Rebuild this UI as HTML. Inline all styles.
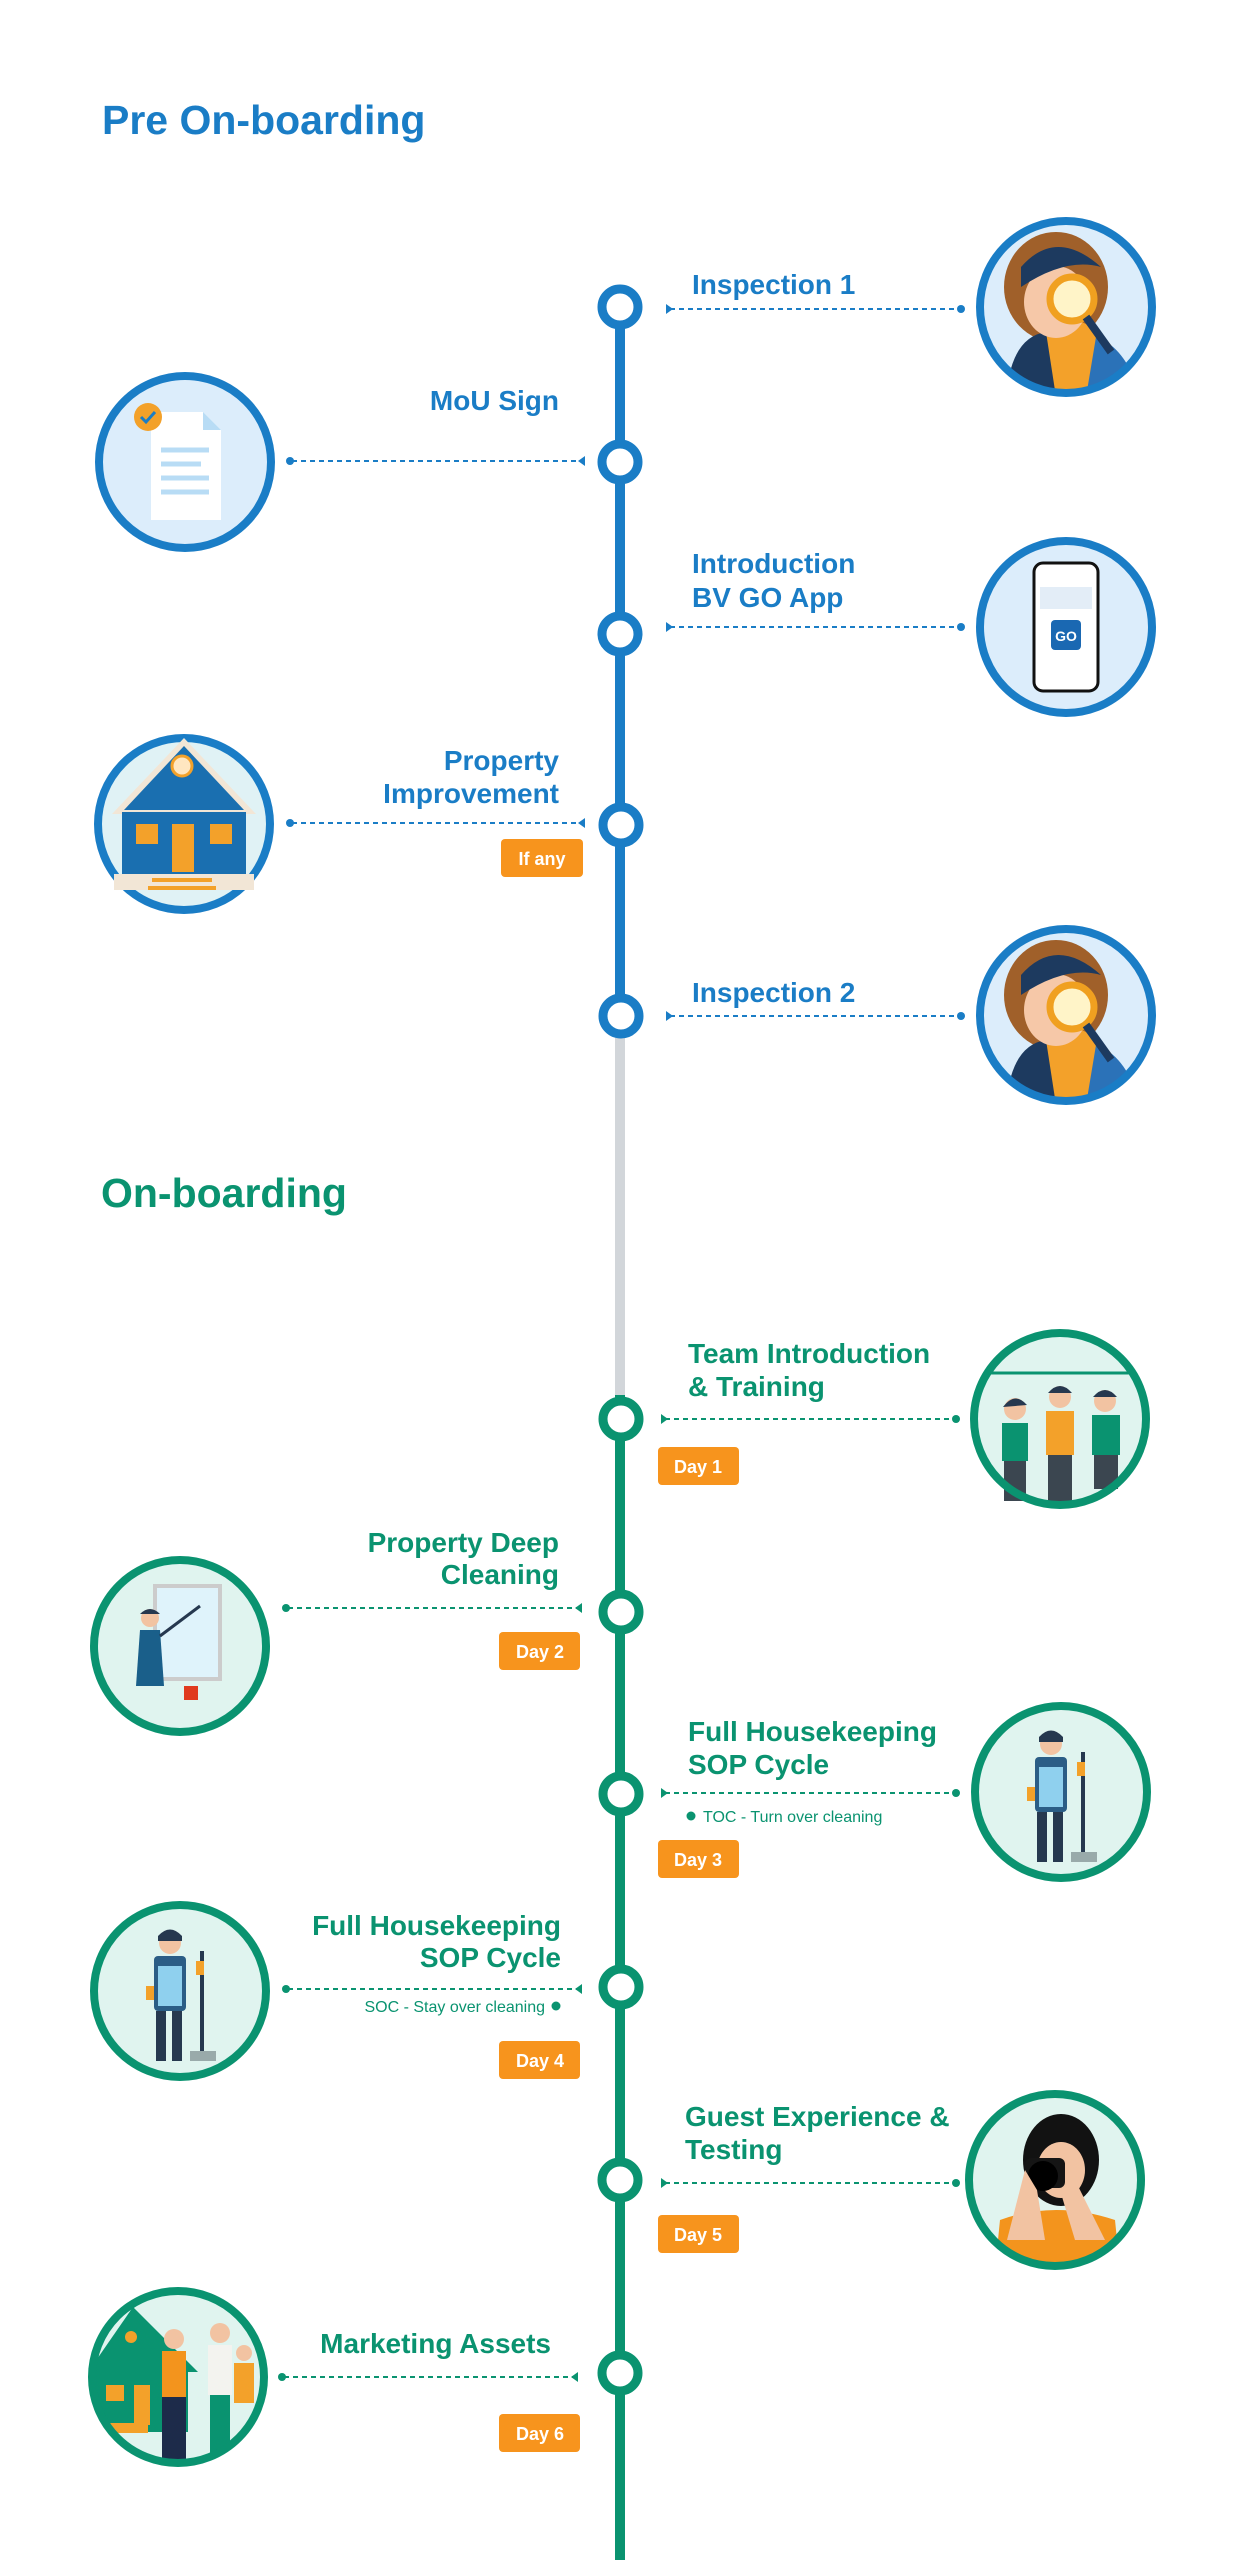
<!DOCTYPE html>
<html><head><meta charset="utf-8"><style>
html,body{margin:0;padding:0;background:#fff}
svg{display:block}
text{font-family:"Liberation Sans",sans-serif;font-weight:bold}
</style></head><body>
<svg width="1246" height="2560" viewBox="0 0 1246 2560" xmlns="http://www.w3.org/2000/svg">
<defs>
<clipPath id="cR"><circle cx="0" cy="0" r="84"/></clipPath>
<g id="insp">
 <circle r="86" fill="#dcedfb"/>
 <g clip-path="url(#cR)">
  <ellipse cx="-10" cy="-20" rx="52" ry="55" fill="#a0602a"/>
  <path d="M-50 90 Q-40 20 0 10 Q50 20 70 90Z" fill="#f3a12a"/>
  <path d="M-60 90 Q-55 30 -20 25 L-10 90Z" fill="#1d3a5f"/>
  <path d="M30 30 Q60 40 75 90 L20 90Z" fill="#2b72b8"/>
  <ellipse cx="-10" cy="-5" rx="32" ry="36" fill="#f6c8a8"/>
  <path d="M-45 -40 Q-10 -80 35 -40 Q0 -50 -45 -20Z" fill="#1d3a5f"/>
  <circle cx="6" cy="-8" r="22" fill="#fff4c8" stroke="#f0a020" stroke-width="7"/>
  <line x1="20" y1="10" x2="45" y2="45" stroke="#1d3a5f" stroke-width="8"/>
 </g>
 <circle r="86" fill="none" stroke="#1a7dc6" stroke-width="8"/>
</g>
<g id="hk">
 <circle r="86" fill="#e0f4ef"/>
 <circle cx="-10" cy="-48" r="11" fill="#f2c3a2"/>
 <path d="M-22 -55 Q-10 -68 2 -55 L2 -50 L-22 -50Z" fill="#26384f"/>
 <rect x="-26" y="-35" width="32" height="55" rx="4" fill="#2b5d86"/>
 <rect x="-22" y="-25" width="24" height="40" fill="#8fd0ee"/>
 <rect x="-24" y="20" width="10" height="50" fill="#26384f"/>
 <rect x="-8" y="20" width="10" height="50" fill="#26384f"/>
 <line x1="22" y1="-40" x2="22" y2="62" stroke="#26384f" stroke-width="4"/>
 <rect x="10" y="60" width="26" height="10" fill="#9aa"/>
 <rect x="-34" y="-5" width="8" height="14" fill="#f3a12a"/>
 <rect x="16" y="-30" width="8" height="14" fill="#f3a12a"/>
 <circle r="86" fill="none" stroke="#0a9370" stroke-width="8"/>
</g>
</defs>

<!-- titles -->
<text x="102" y="134" font-size="41" fill="#1a7dc6">Pre On-boarding</text>
<text x="101" y="1207" font-size="41" fill="#0a9370">On-boarding</text>

<!-- timeline -->
<line x1="620" y1="307" x2="620" y2="1015" stroke="#1a7dc6" stroke-width="10"/>
<line x1="620" y1="1015" x2="620" y2="1395" stroke="#d2d6da" stroke-width="10"/>
<line x1="620" y1="1395" x2="620" y2="2560" stroke="#0a9370" stroke-width="10"/>

<g fill="#fff" stroke-width="9">
 <g stroke="#1a7dc6">
  <circle cx="620" cy="307" r="18"/><circle cx="620" cy="462" r="18"/><circle cx="620" cy="634" r="18"/><circle cx="621" cy="825" r="18"/><circle cx="621" cy="1016" r="18"/>
 </g>
 <g stroke="#0a9370">
  <circle cx="621" cy="1419" r="18"/><circle cx="621" cy="1612" r="18"/><circle cx="621" cy="1794" r="18"/><circle cx="621" cy="1987" r="18"/><circle cx="620" cy="2180" r="18"/><circle cx="620" cy="2373" r="18"/>
 </g>
</g>

<!-- connectors blue -->
<g stroke="#1a7dc6" stroke-width="2" stroke-dasharray="5 4" fill="none">
 <line x1="670" y1="309" x2="960" y2="309"/>
 <line x1="292" y1="461" x2="580" y2="461"/>
 <line x1="670" y1="627" x2="960" y2="627"/>
 <line x1="292" y1="823" x2="580" y2="823"/>
 <line x1="670" y1="1016" x2="960" y2="1016"/>
</g>
<g fill="#1a7dc6">
 <path d="M666 304 l7 5 -7 5z"/><circle cx="961" cy="309" r="4"/>
 <path d="M585 456 l-7 5 7 5z"/><circle cx="290" cy="461" r="4"/>
 <path d="M666 622 l7 5 -7 5z"/><circle cx="961" cy="627" r="4"/>
 <path d="M585 818 l-7 5 7 5z"/><circle cx="290" cy="823" r="4"/>
 <path d="M666 1011 l7 5 -7 5z"/><circle cx="961" cy="1016" r="4"/>
</g>
<!-- connectors green -->
<g stroke="#0a9370" stroke-width="2" stroke-dasharray="5 4" fill="none">
 <line x1="665" y1="1419" x2="955" y2="1419"/>
 <line x1="288" y1="1608" x2="578" y2="1608"/>
 <line x1="665" y1="1793" x2="955" y2="1793"/>
 <line x1="288" y1="1989" x2="578" y2="1989"/>
 <line x1="665" y1="2183" x2="955" y2="2183"/>
 <line x1="284" y1="2377" x2="574" y2="2377"/>
</g>
<g fill="#0a9370">
 <path d="M661 1414 l7 5 -7 5z"/><circle cx="956" cy="1419" r="4"/>
 <path d="M582 1603 l-7 5 7 5z"/><circle cx="286" cy="1608" r="4"/>
 <path d="M661 1788 l7 5 -7 5z"/><circle cx="956" cy="1793" r="4"/>
 <path d="M582 1984 l-7 5 7 5z"/><circle cx="286" cy="1989" r="4"/>
 <path d="M661 2178 l7 5 -7 5z"/><circle cx="956" cy="2183" r="4"/>
 <path d="M578 2372 l-7 5 7 5z"/><circle cx="282" cy="2377" r="4"/>
 <circle cx="691" cy="1816" r="4.5"/><circle cx="556" cy="2006" r="4.5"/>
</g>

<!-- blue labels -->
<g font-size="28" fill="#1a7dc6">
 <text x="692" y="294">Inspection 1</text>
 <text x="559" y="410" text-anchor="end">MoU Sign</text>
 <text x="692" y="573">Introduction</text>
 <text x="692" y="607">BV GO App</text>
 <text x="559" y="770" text-anchor="end">Property</text>
 <text x="559" y="803" text-anchor="end">Improvement</text>
 <text x="692" y="1002">Inspection 2</text>
</g>
<!-- green labels -->
<g font-size="28" fill="#0a9370">
 <text x="688" y="1363">Team Introduction</text>
 <text x="688" y="1396">&amp; Training</text>
 <text x="559" y="1552" text-anchor="end">Property Deep</text>
 <text x="559" y="1584" text-anchor="end">Cleaning</text>
 <text x="688" y="1741">Full Housekeeping</text>
 <text x="688" y="1774">SOP Cycle</text>
 <text x="561" y="1935" text-anchor="end">Full Housekeeping</text>
 <text x="561" y="1967" text-anchor="end">SOP Cycle</text>
 <text x="685" y="2126">Guest Experience &amp;</text>
 <text x="685" y="2159">Testing</text>
 <text x="551" y="2353" text-anchor="end">Marketing Assets</text>
</g>
<g font-size="16" fill="#0a9370" font-weight="normal">
 <text x="703" y="1822" style="font-weight:normal">TOC - Turn over cleaning</text>
 <text x="545" y="2012" text-anchor="end" style="font-weight:normal">SOC - Stay over cleaning</text>
</g>

<!-- badges -->
<g fill="#f7941d">
 <rect x="501" y="839" width="82" height="38" rx="4"/>
 <rect x="658" y="1447" width="81" height="38" rx="4"/>
 <rect x="499" y="1632" width="81" height="38" rx="4"/>
 <rect x="658" y="1840" width="81" height="38" rx="4"/>
 <rect x="499" y="2041" width="81" height="38" rx="4"/>
 <rect x="658" y="2215" width="81" height="38" rx="4"/>
 <rect x="499" y="2414" width="81" height="38" rx="4"/>
</g>
<g font-size="18" fill="#fff" text-anchor="middle">
 <text x="542" y="865">If any</text>
 <text x="698" y="1473">Day 1</text>
 <text x="540" y="1658">Day 2</text>
 <text x="698" y="1866">Day 3</text>
 <text x="540" y="2067">Day 4</text>
 <text x="698" y="2241">Day 5</text>
 <text x="540" y="2440">Day 6</text>
</g>

<!-- blue illustrations -->
<use href="#insp" x="1066" y="307"/>
<use href="#insp" x="1066" y="1015"/>
<g transform="translate(185 462)">
 <circle r="86" fill="#dcedfb" stroke="#1a7dc6" stroke-width="8"/>
 <path d="M-34 -50 L18 -50 L36 -32 L36 58 L-34 58Z" fill="#fff"/>
 <path d="M18 -50 L36 -32 L18 -32Z" fill="#b8dcf5"/>
 <g stroke="#b8dcf5" stroke-width="5"><line x1="-24" y1="-12" x2="24" y2="-12"/><line x1="-24" y1="2" x2="16" y2="2"/><line x1="-24" y1="16" x2="24" y2="16"/><line x1="-24" y1="30" x2="24" y2="30"/></g>
 <circle cx="-37" cy="-45" r="14" fill="#f3a12a"/>
 <path d="M-44 -45 l5 5 9 -10" stroke="#1a7dc6" stroke-width="3" fill="none"/>
</g>
<g transform="translate(1066 627)">
 <circle r="86" fill="#dcedfb" stroke="#1a7dc6" stroke-width="8"/>
 <rect x="-32" y="-64" width="64" height="128" rx="9" fill="#fff" stroke="#111" stroke-width="3"/>
 <rect x="-26" y="-40" width="52" height="22" fill="#e3edf7"/>
 <rect x="-15" y="-7" width="30" height="30" rx="4" fill="#1a68b2"/>
 <text x="0" y="14" font-size="14" fill="#fff" text-anchor="middle">GO</text>
</g>
<g transform="translate(184 824)">
 <circle r="86" fill="#e0f2f5" stroke="#1a7dc6" stroke-width="8"/>
 <path d="M-72 -10 L0 -86 L72 -10Z" fill="#f2e6d6"/>
 <path d="M-60 -14 L0 -78 L60 -14Z" fill="#1a6fb0"/>
 <circle cx="-2" cy="-58" r="10" fill="#ffe6c0" stroke="#f3a12a" stroke-width="3"/>
 <rect x="-62" y="-12" width="124" height="62" fill="#1a6fb0"/>
 <rect x="-48" y="0" width="22" height="20" fill="#f3a12a"/>
 <rect x="26" y="0" width="22" height="20" fill="#f3a12a"/>
 <rect x="-12" y="0" width="22" height="48" fill="#f3a12a"/>
 <rect x="-70" y="50" width="140" height="16" fill="#f2e6d6"/>
 <rect x="-32" y="54" width="60" height="4" fill="#f3a12a"/><rect x="-36" y="62" width="68" height="4" fill="#f3a12a"/>
</g>

<!-- green illustrations -->
<g transform="translate(1060 1419)">
 <circle r="86" fill="#e0f4ef"/>
 <line x1="-72" y1="-46" x2="72" y2="-46" stroke="#0a9370" stroke-width="3"/>
 <g>
  <circle cx="-45" cy="-10" r="11" fill="#f2c3a2"/><path d="M-57 -12 Q-45 -28 -33 -14Z" fill="#26384f"/>
  <rect x="-58" y="4" width="26" height="38" fill="#0a9370"/><rect x="-56" y="42" width="22" height="40" fill="#3b4650"/>
  <circle cx="0" cy="-22" r="11" fill="#f2c3a2"/><path d="M-12 -26 Q0 -40 12 -26Z" fill="#26384f"/>
  <rect x="-14" y="-8" width="28" height="44" fill="#f3a12a"/><rect x="-12" y="36" width="24" height="50" fill="#3b4650"/>
  <circle cx="45" cy="-18" r="11" fill="#f2c3a2"/><path d="M33 -22 Q45 -36 57 -22Z" fill="#26384f"/>
  <rect x="32" y="-4" width="28" height="40" fill="#0a9370"/><rect x="34" y="36" width="24" height="34" fill="#3b4650"/>
 </g>
 <circle r="86" fill="none" stroke="#0a9370" stroke-width="8"/>
</g>
<g transform="translate(180 1646)">
 <circle r="86" fill="#e0f4ef" stroke="#0a9370" stroke-width="8"/>
 <rect x="-25" y="-60" width="65" height="93" fill="#dff3fb" stroke="#ccc" stroke-width="4"/>
 <circle cx="-30" cy="-28" r="9" fill="#f2c3a2"/><path d="M-40 -32 Q-30 -42 -20 -32Z" fill="#26384f"/>
 <path d="M-40 -16 L-20 -16 L-16 40 L-44 40Z" fill="#1a5f8a"/>
 <line x1="-20" y1="-10" x2="20" y2="-40" stroke="#26384f" stroke-width="3"/>
 <rect x="4" y="40" width="14" height="14" fill="#e03a1e"/>
</g>
<use href="#hk" x="1061" y="1792"/>
<use href="#hk" x="180" y="1991"/>
<g transform="translate(1055 2180)">
 <circle r="86" fill="#e0f4ef"/>
 <g clip-path="url(#cR)">
  <ellipse cx="6" cy="-20" rx="38" ry="46" fill="#121212"/>
  <path d="M-60 90 L-55 40 Q0 20 60 40 L65 90Z" fill="#f3941d"/>
  <ellipse cx="6" cy="-10" rx="24" ry="28" fill="#f2c3a2"/>
  <rect x="-30" y="-22" width="40" height="30" rx="6" fill="#151515"/>
  <circle cx="-12" cy="-4" r="15" fill="#000"/>
  <path d="M-48 60 L-30 -10 L-18 10 L-10 60Z" fill="#f2c3a2"/>
  <path d="M50 60 L20 0 L5 10 L20 60Z" fill="#f2c3a2"/>
 </g>
 <circle r="86" fill="none" stroke="#0a9370" stroke-width="8"/>
</g>
<g transform="translate(178 2377)">
 <circle r="86" fill="#e0f4ef"/>
 <g clip-path="url(#cR)">
  <path d="M-90 -5 L-45 -70 L20 -5Z" fill="#0a9370"/>
  <rect x="-85" y="-5" width="95" height="60" fill="#0a9370"/>
  <rect x="-72" y="8" width="18" height="16" fill="#f3a12a"/><rect x="-44" y="8" width="16" height="40" fill="#f3a12a"/>
  <circle cx="-47" cy="-40" r="6" fill="#f3a12a"/>
  <rect x="-80" y="46" width="50" height="10" fill="#f3a12a"/>
  <circle cx="-4" cy="-38" r="10" fill="#f2c3a2"/><rect x="-16" y="-26" width="24" height="46" fill="#f3941d"/><rect x="-16" y="20" width="24" height="70" fill="#1d2b4a"/>
  <circle cx="42" cy="-44" r="10" fill="#f2c3a2"/><rect x="30" y="-32" width="24" height="50" fill="#f3f3ef"/><rect x="32" y="18" width="20" height="70" fill="#0a9370"/>
  <circle cx="66" cy="-24" r="8" fill="#f2c3a2"/><rect x="56" y="-14" width="20" height="40" fill="#f3a12a"/>
 </g>
 <circle r="86" fill="none" stroke="#0a9370" stroke-width="8"/>
</g>
</svg>
</body></html>
